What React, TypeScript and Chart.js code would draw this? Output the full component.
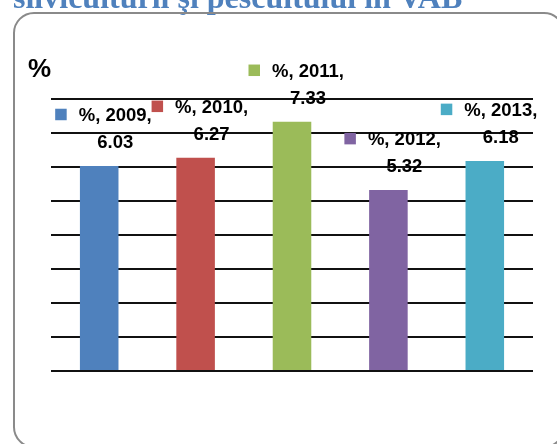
import React, { useEffect, useRef } from "react";
import { Chart, registerables } from "chart.js";

Chart.register(...registerables);

const years = ["2009", "2010", "2011", "2012", "2013"];
const seriesName = "%";
const values = [6.03, 6.27, 7.33, 5.32, 6.18];
const barColors = ["#4F81BD", "#C0504D", "#9BBB59", "#8064A2", "#4BACC6"];
const titleText = "silviculturii şi pescuitului în VAB";
const yMin = 0;
const yMax = 8;
const yStep = 1;

const decorPlugin = {
  id: "decor",
  beforeDraw(chart: any) {
    const ctx = chart.ctx;
    ctx.save();
    // title (clipped at top)
    ctx.fillStyle = "#4F81BD";
    ctx.font = "bold 32px 'Liberation Serif', 'Times New Roman', serif";
    ctx.textAlign = "left";
    ctx.textBaseline = "alphabetic";
    ctx.fillText(titleText, 13, 7.5);
    // rounded frame
    ctx.strokeStyle = "#8a8a8a";
    ctx.lineWidth = 2;
    ctx.beginPath();
    ctx.roundRect(14, 13, 550, 434, 20);
    ctx.stroke();
    // axis unit label
    ctx.fillStyle = "#000";
    ctx.font = "bold 26px 'Liberation Sans', Arial, sans-serif";
    ctx.fillText(seriesName, 28, 77);
    ctx.restore();
  },
  afterDatasetsDraw(chart: any) {
    const ctx = chart.ctx;
    const meta = chart.getDatasetMeta(0);
    ctx.save();
    ctx.font = "bold 18.5px 'Liberation Sans', Arial, sans-serif";
    ctx.textBaseline = "alphabetic";
    ctx.textAlign = "center";
    meta.data.forEach((bar: any, i: number) => {
      const cx = bar.x + 16;
      const l1 = `${seriesName}, ${years[i]},`;
      const l2 = `${values[i]}`;
      const y1 = bar.y - 45;
      const y2 = bar.y - 18;
      ctx.fillStyle = "#000";
      ctx.fillText(l1, cx, y1);
      ctx.fillText(l2, cx, y2);
      const w = ctx.measureText(l1).width;
      const sq = 11.5;
      ctx.fillStyle = barColors[i];
      ctx.fillRect(cx - w / 2 - 12 - sq, y1 - 6.5 - sq / 2, sq, sq);
    });
    ctx.restore();
  },
};

export default function App() {
  const ref = useRef<HTMLCanvasElement>(null);
  useEffect(() => {
    if (!ref.current) return;
    const chart = new Chart(ref.current, {
      type: "bar",
      data: {
        labels: years,
        datasets: [
          {
            label: seriesName,
            data: values,
            backgroundColor: barColors,
            borderWidth: 0,
            categoryPercentage: 1,
            barPercentage: 0.4,
          },
        ],
      },
      options: {
        responsive: false,
        animation: false,
        layout: { padding: { left: 51, right: 24, top: 99, bottom: 73 } },
        plugins: {
          legend: { display: false },
          tooltip: { enabled: false },
          title: { display: false },
        },
        scales: {
          x: { display: false },
          y: {
            min: yMin,
            max: yMax,
            ticks: { display: false, stepSize: yStep },
            grid: { color: "#111", lineWidth: 2, drawTicks: false },
            border: { display: false },
          },
        },
      },
      plugins: [decorPlugin],
    });
    return () => chart.destroy();
  }, []);
  return (
    <div style={{ position: "fixed", left: 0, top: 0, width: 557, height: 444, background: "#fff" }}>
      <canvas ref={ref} width={557} height={444} style={{ display: "block" }} />
    </div>
  );
}
